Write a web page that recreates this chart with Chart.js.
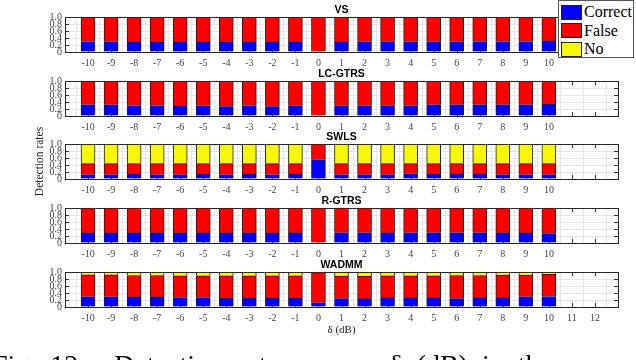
<!DOCTYPE html>
<html>
<head>
<meta charset="utf-8">
<script src="https://cdn.jsdelivr.net/npm/chart.js@4.4.0/dist/chart.umd.min.js"></script>
<style>
  html, body { margin: 0; padding: 0; background: #fff; }
  body { width: 636px; height: 360px; position: relative; overflow: hidden; }
  canvas.panel { position: absolute; left: 0; }
  #legend {
    position: absolute; left: 558px; top: 0; width: 76px; height: 58px;
    box-sizing: border-box; border: 1px solid #555; background: #fff; z-index: 10;
    font-family: 'Liberation Serif', 'Times New Roman', serif; font-size: 16px; color: #000;
  }
  #legend .row { position: absolute; left: 2px; height: 16px; display: flex; align-items: center; }
  #legend .sw { width: 21px; height: 15px; box-sizing: border-box; border: 1px solid #222; margin-right: 2px; }
  #caption {
    position: absolute; left: -8px; top: 351px; white-space: nowrap;
    font-family: 'Liberation Serif', 'Times New Roman', serif; font-size: 28px; line-height: 28px;
    word-spacing: 7px; color: #000;
  }
</style>
</head>
<body>
<div id="legend"></div>
<div id="caption">Fig. 12:&nbsp; Detection rates versus δ (dB) in the case with</div>
<script>
// x positions of the bars (dB)
const deltaDb = [-10, -9, -8, -7, -6, -5, -4, -3, -2, -1, 0, 1, 2, 3, 4, 5, 6, 7, 8, 9, 10];
// category axis runs from -11 to 13
const axisTicks = ['-11', '-10', '-9', '-8', '-7', '-6', '-5', '-4', '-3', '-2', '-1', '0',
                   '1', '2', '3', '4', '5', '6', '7', '8', '9', '10', '11', '12', '13'];
const upperTickLabels = ['-10', '-9', '-8', '-7', '-6', '-5', '-4', '-3', '-2', '-1', '0',
                         '1', '2', '3', '4', '5', '6', '7', '8', '9', '10'];
const lowerTickLabels = ['-10', '-9', '-8', '-7', '-6', '-5', '-4', '-3', '-2', '-1', '0',
                         '1', '2', '3', '4', '5', '6', '7', '8', '9', '10', '11', '12'];

const seriesNames = ['Correct', 'False', 'No'];
const seriesColors = ['#0000ff', '#ff0000', '#f7f70a'];
const methodNames = ['VS', 'LC-GTRS', 'SWLS', 'R-GTRS', 'WADMM'];

const vsCorrect = [0.30, 0.29, 0.28, 0.28, 0.28, 0.28, 0.28, 0.28, 0.28, 0.28, 0.00, 0.28, 0.29, 0.29, 0.29, 0.29, 0.29, 0.30, 0.30, 0.30, 0.31];
const vsFalse   = [0.70, 0.71, 0.72, 0.72, 0.72, 0.72, 0.72, 0.72, 0.72, 0.72, 1.00, 0.72, 0.71, 0.71, 0.71, 0.71, 0.71, 0.70, 0.70, 0.70, 0.69];
const vsNo      = [0, 0, 0, 0, 0, 0, 0, 0, 0, 0, 0, 0, 0, 0, 0, 0, 0, 0, 0, 0, 0];

const lcCorrect = [0.32, 0.32, 0.30, 0.30, 0.28, 0.29, 0.27, 0.30, 0.27, 0.29, 0.00, 0.29, 0.29, 0.29, 0.29, 0.32, 0.32, 0.32, 0.32, 0.32, 0.33];
const lcFalse   = [0.68, 0.68, 0.70, 0.70, 0.72, 0.71, 0.73, 0.70, 0.73, 0.71, 1.00, 0.71, 0.71, 0.71, 0.71, 0.68, 0.68, 0.68, 0.68, 0.68, 0.67];
const lcNo      = [0, 0, 0, 0, 0, 0, 0, 0, 0, 0, 0, 0, 0, 0, 0, 0, 0, 0, 0, 0, 0];

const swCorrect = [0.12, 0.12, 0.14, 0.12, 0.12, 0.13, 0.12, 0.13, 0.12, 0.13, 0.55, 0.12, 0.12, 0.12, 0.15, 0.13, 0.14, 0.14, 0.12, 0.12, 0.12];
const swFalse   = [0.32, 0.32, 0.30, 0.32, 0.32, 0.31, 0.32, 0.31, 0.32, 0.31, 0.45, 0.32, 0.32, 0.32, 0.29, 0.31, 0.30, 0.30, 0.32, 0.32, 0.32];
const swNo      = [0.56, 0.56, 0.56, 0.56, 0.56, 0.56, 0.56, 0.56, 0.56, 0.56, 0.00, 0.56, 0.56, 0.56, 0.56, 0.56, 0.56, 0.56, 0.56, 0.56, 0.56];

const rgCorrect = [0.28, 0.28, 0.28, 0.28, 0.28, 0.28, 0.28, 0.28, 0.28, 0.28, 0.00, 0.29, 0.29, 0.28, 0.29, 0.29, 0.29, 0.29, 0.28, 0.28, 0.27];
const rgFalse   = [0.72, 0.72, 0.72, 0.72, 0.72, 0.72, 0.72, 0.72, 0.72, 0.72, 1.00, 0.71, 0.71, 0.72, 0.71, 0.71, 0.71, 0.71, 0.72, 0.72, 0.73];
const rgNo      = [0, 0, 0, 0, 0, 0, 0, 0, 0, 0, 0, 0, 0, 0, 0, 0, 0, 0, 0, 0, 0];

const wdCorrect = [0.29, 0.29, 0.28, 0.28, 0.27, 0.27, 0.25, 0.25, 0.25, 0.25, 0.12, 0.24, 0.23, 0.26, 0.26, 0.26, 0.24, 0.26, 0.26, 0.29, 0.30];
const wdFalse   = [0.63, 0.63, 0.62, 0.62, 0.62, 0.62, 0.64, 0.64, 0.64, 0.64, 0.86, 0.64, 0.645, 0.63, 0.63, 0.63, 0.66, 0.64, 0.65, 0.62, 0.63];
const wdNo      = [0.08, 0.08, 0.10, 0.10, 0.11, 0.11, 0.11, 0.11, 0.11, 0.11, 0.02, 0.12, 0.125, 0.11, 0.11, 0.11, 0.10, 0.10, 0.09, 0.09, 0.07];

const methodData = [
    [vsCorrect, vsFalse, vsNo],
    [lcCorrect, lcFalse, lcNo],
    [swCorrect, swFalse, swNo],
    [rgCorrect, rgFalse, rgNo],
    [wdCorrect, wdFalse, wdNo]
];

const serif = "'Liberation Serif', 'Times New Roman', serif";

// axes box on top, small inward ticks behind the bars (matlab style)
const boxPlugin = {
    id: 'box',
    beforeDatasetsDraw(chart) {
        const { ctx, chartArea: a, scales: { x, y } } = chart;
        ctx.save();
        ctx.strokeStyle = '#333';
        ctx.lineWidth = 1;
        ctx.beginPath();
        y.ticks.forEach(t => {
            const py = Math.round(y.getPixelForValue(t.value)) + 0.5;
            ctx.moveTo(a.left, py); ctx.lineTo(a.left + 4, py);
            ctx.moveTo(a.right, py); ctx.lineTo(a.right - 4, py);
        });
        x.ticks.forEach((t, i) => {
            const px = Math.round(x.getPixelForTick(i)) + 0.5;
            ctx.moveTo(px, a.bottom); ctx.lineTo(px, a.bottom - 4);
            ctx.moveTo(px, a.top); ctx.lineTo(px, a.top + 4);
        });
        ctx.stroke();
        ctx.restore();
    },
    afterDatasetsDraw(chart) {
        const { ctx, chartArea: a } = chart;
        ctx.save();
        ctx.strokeStyle = '#262626';
        ctx.lineWidth = 1;
        ctx.strokeRect(Math.round(a.left) + 0.5, Math.round(a.top) + 0.5,
                       Math.round(a.right - a.left), Math.round(a.bottom - a.top));
        ctx.restore();
    }
};

const plotTops = [17, 81, 144, 208, 272];
const titleH = 17;
const plotH = 35;

methodNames.forEach((name, m) => {
    const isLast = m === methodNames.length - 1;
    const xh = isLast ? 36 : 20;
    const canvas = document.createElement('canvas');
    canvas.className = 'panel';
    canvas.width = 636;
    canvas.height = titleH + plotH + xh;
    canvas.style.top = (plotTops[m] - titleH) + 'px';
    document.body.insertBefore(canvas, document.getElementById('legend'));

    const shown = isLast ? lowerTickLabels : upperTickLabels;

    new Chart(canvas, {
        type: 'bar',
        data: {
            labels: axisTicks,
            datasets: seriesNames.map((s, k) => ({
                label: s,
                data: deltaDb.map((d, i) => ({ x: String(d), y: methodData[m][k][i] })),
                backgroundColor: seriesColors[k],
                borderColor: '#1e1e1e',
                borderWidth: 1,
                barThickness: 14
            }))
        },
        options: {
            responsive: false,
            animation: false,
            devicePixelRatio: 1,
            layout: { padding: { left: 0, right: 18, top: 0, bottom: 0 } },
            plugins: {
                legend: { display: false },
                tooltip: { enabled: false },
                title: {
                    display: true,
                    text: name,
                    fullSize: false,
                    color: '#000',
                    font: { family: "'Liberation Sans', Arial, sans-serif", weight: 'bold', size: 10.5, lineHeight: '12px' },
                    padding: { top: 4, bottom: 1 }
                }
            },
            scales: {
                x: {
                    type: 'category',
                    stacked: true,
                    offset: false,
                    border: { display: false },
                    grid: { color: '#e6e6e6', drawTicks: false },
                    ticks: {
                        autoSkip: false,
                        maxRotation: 0,
                        padding: 5,
                        color: '#444',
                        font: { family: serif, size: 10 },
                        callback: function (v) {
                            const lab = this.getLabelForValue(v);
                            return shown.includes(lab) ? lab : '';
                        }
                    },
                    title: {
                        display: isLast,
                        text: 'δ (dB)',
                        color: '#222',
                        font: { family: serif, size: 11 },
                        padding: { top: 0, bottom: 6 }
                    },
                    afterFit: s => { s.height = xh; }
                },
                y: {
                    stacked: true,
                    min: 0,
                    max: 1,
                    border: { display: false },
                    grid: { color: '#e6e6e6', drawTicks: false },
                    ticks: {
                        stepSize: 0.2,
                        autoSkip: false,
                        padding: 3,
                        color: '#444',
                        font: { family: serif, size: 10 }
                    },
                    title: {
                        display: m === 2,
                        text: 'Detection rates',
                        color: '#222',
                        font: { family: serif, size: 11.5 },
                        padding: { top: 33, bottom: 0 }
                    },
                    afterFit: s => { s.width = 65; }
                }
            }
        },
        plugins: [boxPlugin]
    });
});

// legend box, built from the series names/colours
const legend = document.getElementById('legend');
seriesNames.forEach((s, k) => {
    const row = document.createElement('div');
    row.className = 'row';
    row.style.top = (3 + k * 18.5) + 'px';
    row.innerHTML = `<span class="sw" style="background:${seriesColors[k]}"></span><span>${s}</span>`;
    legend.appendChild(row);
});
</script>
</body>
</html>
